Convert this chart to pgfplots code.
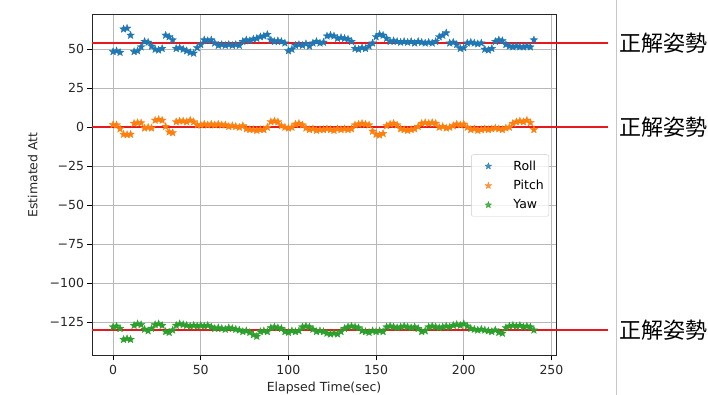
\documentclass[border=0pt]{standalone}
\usepackage{fontspec}
\setmainfont{DejaVu Sans}
\newfontfamily\cjk{Noto Sans CJK JP}
\usepackage{pgfplots}
\usepackage{pgfplotstable}
\pgfplotsset{compat=1.18}
\definecolor{c0}{HTML}{1F77B4}
\definecolor{c1}{HTML}{FF7F0E}
\definecolor{c2}{HTML}{2CA02C}
\definecolor{redl}{RGB}{230,25,30}
\newdimen\starr
\pgfdeclareplotmark{fstar}{%
 \starr=0.42\pgfplotmarksize
 \pgfpathmoveto{\pgfpointpolar{90}{\pgfplotmarksize}}%
 \pgfpathlineto{\pgfpointpolar{126}{\starr}}%
 \pgfpathlineto{\pgfpointpolar{162}{\pgfplotmarksize}}%
 \pgfpathlineto{\pgfpointpolar{198}{\starr}}%
 \pgfpathlineto{\pgfpointpolar{234}{\pgfplotmarksize}}%
 \pgfpathlineto{\pgfpointpolar{270}{\starr}}%
 \pgfpathlineto{\pgfpointpolar{306}{\pgfplotmarksize}}%
 \pgfpathlineto{\pgfpointpolar{342}{\starr}}%
 \pgfpathlineto{\pgfpointpolar{18}{\pgfplotmarksize}}%
 \pgfpathlineto{\pgfpointpolar{54}{\starr}}%
 \pgfpathclose\pgfusepathqfillstroke}

\pgfplotstableread{
t v
0 48.5
2 49
4 48
6 63
8 63.5
10 59
12 48.5
14 49
16 51.5
18 55
20 54.5
22 52
24 50
26 49.5
28 50.5
30 59
32 58
34 56
36 50.5
38 51
40 50
42 49
44 48
46 47.5
48 51
50 53
52 56
54 55.5
56 56
58 54
60 52.5
62 53
64 52.5
66 53
68 52.5
70 53
72 52.5
74 55
76 56
78 55.5
80 56.5
82 57
84 58
86 58.5
88 59.5
90 56
92 55
94 55.5
96 55
98 54
100 49
102 50
104 52.5
106 53
108 52.5
110 53.5
112 52
114 54
116 55
118 54
120 54.5
122 58.5
124 59
126 58.5
128 57
130 57.5
132 57
134 56.5
136 55
138 50.5
140 50
142 51
144 50.5
146 52
148 54
150 58
152 59.5
154 59
156 57
158 55
160 55.5
162 55
164 54.5
166 55
168 54.5
170 55
172 54
174 55
176 54.5
178 54
180 54.5
182 54
184 55
186 58
188 59
190 60.5
192 54
194 54.5
196 53
198 50.5
200 51
202 54
204 54.5
206 54
208 53.5
210 54
212 50
214 49.5
216 50.5
218 55
220 56
222 55.5
224 53
226 52
228 51.5
230 52
232 51.5
234 51.5
236 52
238 51.5
240 56
}\roll

\pgfplotstableread{
t v
0 1.7
2 1.5
4 -1
6 -4.5
8 -4.7
10 -4.5
12 2.5
14 3
16 2.8
18 -0.5
20 0
22 -0.5
24 4.5
26 5
28 4.5
30 0.5
32 -3
34 -3.5
36 3.5
38 4
40 4
42 3.5
44 4.5
46 3.5
48 1.5
50 1.5
52 2
54 1.5
56 2
58 1.5
60 2
62 1.5
64 1.5
66 0.5
68 1
70 0.5
72 0
74 1
76 -1
78 -1.5
80 -1.5
82 -2
84 -1.5
86 -1.5
88 0
90 3.5
92 4
94 3.5
96 1
98 0
100 -0.5
102 0
104 2
106 2.5
108 1.5
110 -0.5
112 -1.5
114 -1
116 -2
118 -1.5
120 -1.5
122 -1
124 -1.5
126 -2
128 -1
130 -1.5
132 -1
134 -1.5
136 -1
138 1.5
140 2
142 2.5
144 2
146 1.5
148 -2.5
150 -4.5
152 -5
154 -4
156 1
158 2
160 2.5
162 1.5
164 -1
166 -1.5
168 -2
170 -1.5
172 -1
174 0.5
176 2.5
178 3
180 2.5
182 3
184 2.5
186 0
188 0.5
190 -0.5
192 0
194 1
196 2
198 1.5
200 2
202 0
204 -1.5
206 -1
208 -2
210 -1.5
212 -1
214 -1.5
216 -1
218 -0.5
220 -1
222 -1.5
224 -0.5
226 0
228 2.5
230 3.5
232 4
234 3.5
236 4.5
238 3
240 -1.5
}\pitch

\pgfplotstableread{
t v
0 -128
2 -127.5
4 -129
6 -136
8 -135.5
10 -136
12 -127
14 -126
16 -126.5
18 -129.5
20 -130.5
22 -129
24 -126.5
26 -126
28 -127
30 -131
32 -131.5
34 -130
36 -127
38 -126
40 -126.5
42 -127
44 -127.5
46 -127
48 -127.5
50 -127
52 -127.5
54 -127
56 -128
58 -129
60 -128.5
62 -129
64 -129.5
66 -128.5
68 -129
70 -129.5
72 -130
74 -131
76 -130.5
78 -131.5
80 -133
82 -134
84 -131
86 -130.5
88 -131
90 -128.5
92 -128
94 -128.5
96 -129
98 -131
100 -131.5
102 -130.5
104 -131
106 -130.5
108 -128
110 -127.5
112 -128
114 -129.5
116 -131
118 -130.5
120 -131
122 -132
124 -132.5
126 -132
128 -132.5
130 -131
132 -129
134 -128
136 -127.5
138 -128
140 -128.5
142 -130.5
144 -131
146 -131.5
148 -130.5
150 -131
152 -130.5
154 -131
156 -128
158 -127.5
160 -128
162 -128.5
164 -128
166 -127.5
168 -128
170 -128.5
172 -128
174 -129
176 -131
178 -130.5
180 -128
182 -127.5
184 -128
186 -128.5
188 -128
190 -127.5
192 -128
194 -127
196 -126.5
198 -127
200 -126
202 -127.5
204 -129
206 -129.5
208 -130
210 -129.5
212 -130
214 -130.5
216 -131
218 -130
220 -131.5
222 -132
224 -128.5
226 -127.5
228 -127
230 -127.5
232 -127
234 -128
236 -127.5
238 -128
240 -130
}\yaw

\begin{document}
\begin{tikzpicture}[x=1pt,y=1pt]
\path[use as bounding box] (0,0) rectangle (708,395);
\begin{axis}[
  at={(92pt,39pt)}, anchor=south west,
  scale only axis, width=464pt, height=341pt,
  clip=false,
  xmin=-12, xmax=252.6, ymin=-146.6, ymax=72,
  xtick={0,50,100,150,200,250},
  ytick={-125,-100,-75,-50,-25,0,25,50},
  yticklabels={−125,−100,−75,−50,−25,0,25,50},
  /pgf/number format/assume math mode=true,
  tick align=outside, major tick length=4.5pt,
  tick style={black, line width=0.9pt},
  xtick pos=bottom, ytick pos=left,
  grid=major, grid style={color=black!28, line width=0.9pt},
  axis line style={black!85, line width=1pt},
  tick label style={font=\fontsize{12.5}{15}\selectfont, text=black!85},
  label style={font=\fontsize{12.5}{15}\selectfont, text=black!85},
  xticklabel style={yshift=-1pt},
  xlabel={Elapsed Time(sec)}, ylabel={Estimated Att},
  xlabel style={at={(axis description cs:0.5,0)}, anchor=base, yshift=-36pt, inner sep=0pt},
  ylabel style={at={(axis description cs:-0.1175,0.531)}, anchor=base, inner sep=0pt},
  legend style={at={(axis description cs:1,0.5)}, anchor=east, xshift=-7pt,
    draw=black!20, fill=white, fill opacity=0.8, text opacity=1,
    rounded corners=2pt, font=\fontsize{12.5}{15}\selectfont,
    row sep=4.5pt, inner xsep=3pt, inner ysep=4pt},
  legend cell align=left,
  legend image code/.code={%
    \path[draw=none, fill=none] (0pt,0pt) -- (37pt,0pt);
    \path[#1, draw=none, mark size=3.4pt] plot coordinates {(14pt,0pt)};},
]
\addplot[only marks, mark=fstar, mark size=4pt, color=c0, mark options={line width=0.3pt, draw=c0, fill=c0}] table[x=t,y=v] {\roll};
\addlegendentry{Roll}
\addplot[only marks, mark=fstar, mark size=4pt, color=c1, mark options={line width=0.3pt, draw=c1, fill=c1}] table[x=t,y=v] {\pitch};
\addlegendentry{Pitch}
\addplot[only marks, mark=fstar, mark size=4pt, color=c2, mark options={line width=0.3pt, draw=c2, fill=c2}] table[x=t,y=v] {\yaw};
\addlegendentry{Yaw}
\draw[draw=redl, line width=1.3pt] (axis cs:-12,54) -- (axis cs:282.2,54);
\draw[draw=redl, line width=1.3pt] (axis cs:-12,0.2) -- (axis cs:282.2,0.2);
\draw[draw=redl, line width=1.3pt] (axis cs:-12,-130) -- (axis cs:282.2,-130);
\end{axis}
\draw[black!22, line width=1pt] (616,0) -- (616,395);
\node[anchor=west, inner sep=0pt, font=\cjk\fontsize{22}{26}\selectfont] at (619,351.7) {正解姿勢};
\node[anchor=west, inner sep=0pt, font=\cjk\fontsize{22}{26}\selectfont] at (619,267.7) {正解姿勢};
\node[anchor=west, inner sep=0pt, font=\cjk\fontsize{22}{26}\selectfont] at (619,65) {正解姿勢};
\end{tikzpicture}
\end{document}
